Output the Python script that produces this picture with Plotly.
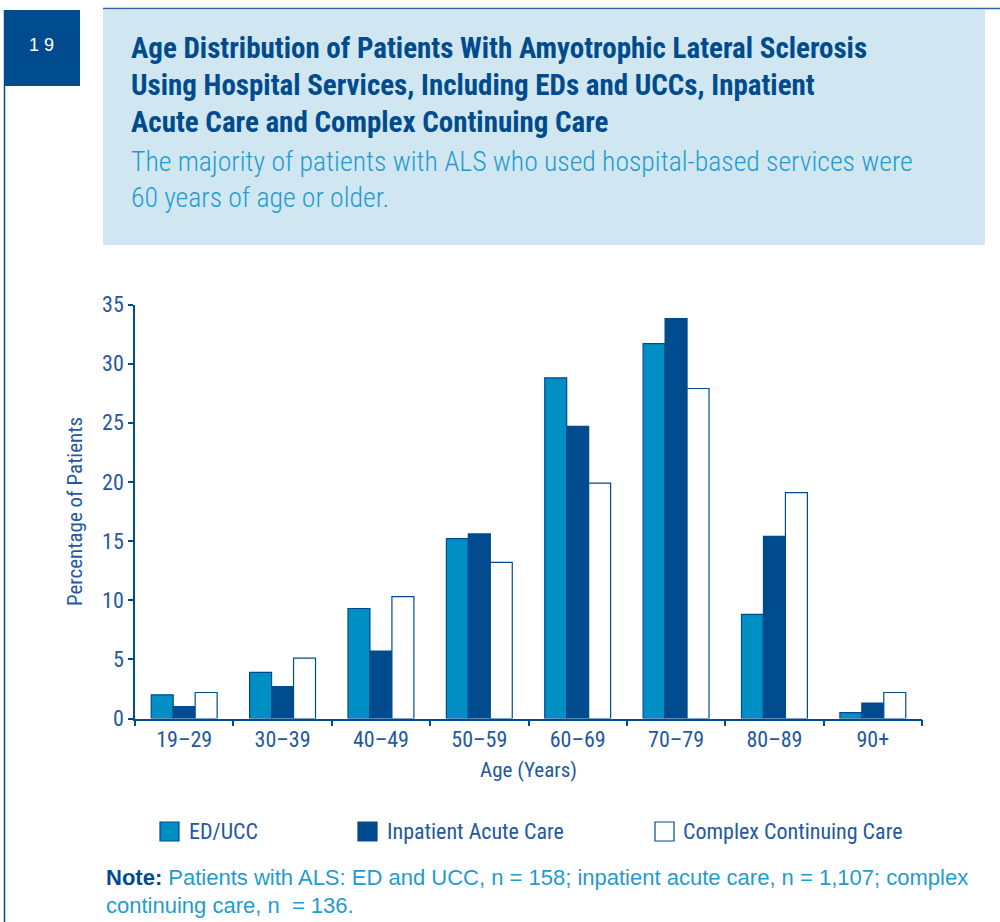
import plotly.graph_objects as go

W, H = 1000, 922

categories = ["19–29", "30–39", "40–49", "50–59", "60–69", "70–79", "80–89", "90+"]
ed_ucc = [2.0, 3.9, 9.3, 15.2, 28.8, 31.7, 8.8, 0.5]
inpatient_acute = [1.0, 2.7, 5.7, 15.6, 24.7, 33.8, 15.4, 1.3]
complex_continuing = [2.2, 5.1, 10.3, 13.2, 19.9, 27.9, 19.1, 2.2]
series_names = ["ED/UCC", "Inpatient Acute Care", "Complex Continuing Care"]
y_ticks = [0, 5, 10, 15, 20, 25, 30, 35]

NAVY = "#004B8D"
MID = "#008FC4"
LIGHT_TXT = "#1F9BD1"
AXIS_TXT = "#2458A0"
HEADER_BG = "#D0E7F2"
COND = "Liberation Sans Narrow, Arial Narrow, Roboto Condensed, sans-serif"
REG = "Liberation Sans, Arial, sans-serif"


def px(x):
    return x / W


def py(y):
    return 1 - y / H


fig = go.Figure()
fills = [MID, NAVY, "white"]
for name, vals, fc in zip(series_names, [ed_ucc, inpatient_acute, complex_continuing], fills):
    fig.add_trace(go.Bar(
        x=categories, y=vals, name=name,
        marker=dict(color=fc, line=dict(color=NAVY, width=1.2)),
        showlegend=False,
    ))

fig.update_layout(
    template="none",
    width=W, height=H, autosize=False,
    margin=dict(l=0, r=0, t=0, b=0, pad=0, autoexpand=False),
    showlegend=False,
    paper_bgcolor="white", plot_bgcolor="white",
    barmode="group", bargap=0.33, bargroupgap=0,
    xaxis=dict(
        domain=[px(135), px(922)], automargin=False,
        showline=True, linecolor=NAVY, linewidth=1.5,
        ticks="outside", tickson="boundaries", ticklen=6, tickcolor=NAVY, tickwidth=1.5,
        tickfont=dict(family=COND, size=22, color=AXIS_TXT),
        showgrid=False, zeroline=False,
        title=dict(text="Age (Years)", font=dict(family=COND, size=21, color=AXIS_TXT), standoff=12),
    ),
    yaxis=dict(
        domain=[py(718.5), py(304.5)], automargin=False,
        range=[0, 35], tickvals=y_ticks,
        showline=True, linecolor=NAVY, linewidth=1.5,
        ticks="outside", ticklen=5, tickcolor=NAVY, tickwidth=1.5,
        tickfont=dict(family=COND, size=22, color=AXIS_TXT),
        showgrid=False, zeroline=False,
        title=dict(text="Percentage of Patients", font=dict(family=COND, size=21, color=AXIS_TXT), standoff=14),
    ),
)

shapes = []
annotations = []
# frame
shapes.append(dict(type="line", xref="paper", yref="paper", x0=px(103), x1=px(1000), y0=py(8.5), y1=py(8.5),
                   line=dict(color="#2F62A0", width=1.5)))
shapes.append(dict(type="line", xref="paper", yref="paper", x0=px(4.5), x1=px(4.5), y0=py(10), y1=py(922),
                   line=dict(color=NAVY, width=1.5)))
shapes.append(dict(type="rect", xref="paper", yref="paper", x0=px(4), x1=px(80), y0=py(10), y1=py(86),
                   fillcolor=NAVY, line=dict(width=0), layer="below"))
shapes.append(dict(type="rect", xref="paper", yref="paper", x0=px(103), x1=px(985), y0=py(10), y1=py(245),
                   fillcolor=HEADER_BG, line=dict(width=0), layer="below"))

annotations.append(dict(text="1 9", x=px(41), y=py(45), xref="paper", yref="paper", showarrow=False,
                        xanchor="center", yanchor="middle",
                        font=dict(family=REG, size=18, color="white")))

title_lines = [
    "Age Distribution of Patients With Amyotrophic Lateral Sclerosis",
    "Using Hospital Services, Including EDs and UCCs, Inpatient",
    "Acute Care and Complex Continuing Care",
]
for i, t in enumerate(title_lines):
    annotations.append(dict(text="<b>" + t + "</b>", x=px(129), y=py(48 + 37 * i), xref="paper", yref="paper",
                            showarrow=False, xanchor="left", yanchor="middle",
                            font=dict(family=COND, size=29, color=NAVY)))

sub_lines = [
    "The majority of patients with ALS who used hospital-based services were",
    "60 years of age or older.",
]
for i, t in enumerate(sub_lines):
    annotations.append(dict(text=t, x=px(129), y=py(161 + 37 * i), xref="paper", yref="paper",
                            showarrow=False, xanchor="left", yanchor="middle",
                            font=dict(family=COND, size=27.7, color=LIGHT_TXT, weight=300)))

# legend
legend_pos = [(160, 187), (358, 385), (655, 681)]
for (sx, tx), name, fc in zip(legend_pos, series_names, fills):
    shapes.append(dict(type="rect", xref="paper", yref="paper", x0=px(sx), x1=px(sx + 19),
                       y0=py(841), y1=py(822), fillcolor=fc, line=dict(color=NAVY, width=1.2)))
    annotations.append(dict(text=name, x=px(tx), y=py(831), xref="paper", yref="paper",
                            showarrow=False, xanchor="left", yanchor="middle",
                            font=dict(family=COND, size=22, color=AXIS_TXT)))

note_lines = [
    "<b><span style='color:" + NAVY + "'>Note:</span></b> Patients with ALS: ED and UCC, n = 158; inpatient acute care, n = 1,107; complex",
    "continuing care, n  = 136.",
]
for i, t in enumerate(note_lines):
    annotations.append(dict(text=t, x=px(104), y=py(877 + 28 * i), xref="paper", yref="paper",
                            showarrow=False, xanchor="left", yanchor="middle",
                            font=dict(family=REG, size=22, color=LIGHT_TXT)))

fig.update_layout(shapes=shapes, annotations=annotations)
fig.write_html("out.html", config={"displayModeBar": False},
               post_script="document.body.style.margin='0';document.body.style.overflow='hidden';")
